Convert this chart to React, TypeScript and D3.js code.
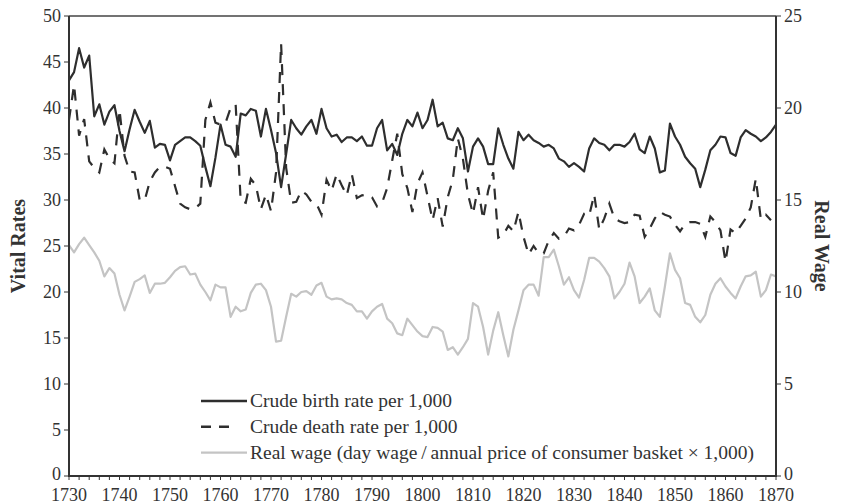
import React from "react";
import * as d3 from "d3";

// annual series, first year 1730
const startYear = 1730;

const birthRate = [
  43.0, 43.9, 46.5, 44.4, 45.7, 39.1, 40.4, 38.2, 39.6, 40.3,
  37.5, 35.3, 37.7, 39.8, 38.5, 37.3, 38.6, 35.7, 36.1, 36.0,
  34.3, 36.0, 36.4, 36.8, 36.8, 36.4, 35.9, 33.6, 31.5, 34.6,
  38.2, 36.0, 35.8, 34.7, 39.4, 39.2, 39.9, 39.7, 36.9, 39.9,
  37.6, 35.1, 31.4, 35.0, 38.7, 37.8, 37.1, 38.0, 38.7, 37.2,
  39.9, 37.8, 36.9, 37.1, 36.3, 36.8, 36.8, 36.4, 36.9, 35.9,
  35.9, 37.8, 38.7, 35.4, 36.1, 34.9, 37.2, 38.7, 38.0, 39.5,
  37.8, 38.7, 40.9, 38.0, 38.4, 36.7, 36.5, 37.8, 36.7, 33.1,
  35.8, 36.7, 35.8, 33.9, 33.9, 37.8, 36.0, 34.5, 33.4, 37.4,
  36.5, 37.1, 36.5, 36.2, 35.8, 36.0, 35.6, 34.5, 34.2, 33.6,
  34.0, 33.6, 33.1, 35.6, 36.7, 36.2, 36.0, 35.4, 36.0, 36.0,
  35.8, 36.3, 37.2, 35.5, 35.1, 36.9, 35.6, 33.0, 33.2, 38.3,
  36.9, 36.0, 34.7, 34.0, 33.4, 31.4, 33.3, 35.4, 36.0, 36.9,
  36.8, 35.1, 34.8, 36.8, 37.6, 37.2, 36.9, 36.4, 36.8, 37.4,
  38.2,
];

const deathRate = [
  38.7, 42.5, 37.0, 38.8, 34.2, 33.5, 33.0, 35.5, 34.5, 34.0,
  39.8, 34.8, 33.1, 33.0, 30.0, 30.0, 32.0, 33.0, 33.6, 33.6,
  33.4, 31.5, 29.6, 29.2, 29.0, 29.1, 29.6, 38.7, 40.6, 38.4,
  38.2, 38.4, 40.0, 40.4, 29.9, 29.7, 32.3, 31.6, 29.0, 30.6,
  28.8, 33.0, 47.0, 33.5, 29.7, 29.8, 31.0, 30.6, 29.8, 29.6,
  28.4, 32.2, 31.0, 32.8, 31.6, 30.5, 32.8, 30.2, 30.5, 30.6,
  30.3, 29.3, 29.7, 31.3, 34.3, 37.2, 32.8, 31.3, 28.7, 31.8,
  33.0, 30.4, 27.8, 30.2, 27.1, 30.3, 32.2, 36.7, 34.5, 30.6,
  28.5, 31.4, 27.9, 31.0, 33.0, 25.9, 26.2, 27.2, 26.6, 28.7,
  26.0, 24.1, 25.0, 24.2, 24.2, 25.6, 26.4, 25.8, 26.0, 26.9,
  26.7, 27.3, 28.5, 28.3, 30.6, 26.8, 28.0, 29.6, 28.0, 27.7,
  27.5, 27.6, 28.4, 28.3, 26.0, 26.9, 28.0, 28.7, 28.4, 28.2,
  27.3, 26.6, 27.4, 27.6, 27.6, 27.4, 26.0, 28.2, 27.6, 26.7,
  23.3, 26.8, 26.4, 27.2, 28.0, 29.2, 32.3, 27.9, 28.4, 27.8,
];

const realWage = [
  12.55, 12.15, 12.6, 12.95, 12.55, 12.15, 11.7, 10.85, 11.3, 11.0,
  9.85, 9.0, 9.75, 10.55, 10.7, 10.9, 9.95, 10.45, 10.45, 10.5,
  10.8, 11.15, 11.35, 11.4, 10.95, 11.0, 10.4, 10.0, 9.55, 10.4,
  10.25, 10.25, 8.65, 9.2, 8.95, 9.05, 9.95, 10.4, 10.45, 10.1,
  9.2, 7.3, 7.35, 8.65, 9.9, 9.75, 10.0, 10.05, 9.85, 10.35,
  10.5, 9.75, 9.6, 9.65, 9.6, 9.4, 9.3, 8.95, 8.95, 8.55,
  8.95, 9.2, 9.35, 8.55, 8.3, 7.75, 7.65, 8.55, 8.2, 7.85,
  7.6, 7.55, 8.1, 8.05, 7.85, 6.85, 7.0, 6.6, 7.0, 7.45,
  9.4, 9.2, 8.1, 6.6, 7.9, 8.9, 7.65, 6.5, 7.95, 9.0,
  10.1, 10.4, 10.4, 9.8, 11.9, 11.9, 12.3, 11.4, 10.4, 10.8,
  10.1, 9.7, 10.65, 11.85, 11.85, 11.65, 11.3, 10.85, 9.65, 10.0,
  10.45, 11.6, 10.85, 9.4, 9.75, 10.2, 9.0, 8.65, 10.3, 12.1,
  11.2, 10.75, 9.4, 9.3, 8.65, 8.35, 8.75, 9.85, 10.45, 10.75,
  10.3, 9.95, 9.65, 10.3, 10.85, 10.9, 11.1, 9.75, 10.1, 10.95,
  10.85,
];

const yearTicks = [1730, 1740, 1750, 1760, 1770, 1780, 1790, 1800, 1810, 1820, 1830, 1840, 1850, 1860, 1870];
const leftTicks = [0, 5, 10, 15, 20, 25, 30, 35, 40, 45, 50];
const rightTicks = [0, 5, 10, 15, 20, 25];

const legendItems = [
  { label: "Crude birth rate per 1,000", color: "#2e2e2e", dash: null },
  { label: "Crude death rate per 1,000", color: "#2e2e2e", dash: "10,8" },
  { label: "Real wage (day wage\u2009/\u2009annual price of consumer basket \u00d7 1,000)", color: "#c4c4c4", dash: null },
];

const W = 842;
const H = 504;
const font = "'Liberation Serif', 'Times New Roman', serif";
const ink = "#333";

export default function App() {
  const x = d3.scaleLinear().domain([1730, 1870]).range([69, 776]);
  const yL = d3.scaleLinear().domain([0, 50]).range([476, 16]);
  const yR = d3.scaleLinear().domain([0, 25]).range([476, 16]);

  const lineL = d3
    .line<number>()
    .x((d, i) => x(startYear + i))
    .y((d) => yL(d));
  const lineR = d3
    .line<number>()
    .x((d, i) => x(startYear + i))
    .y((d) => yR(d));

  const minorYears = d3.range(1730, 1871, 2);

  return (
    <svg
      width={W}
      height={H}
      style={{ position: "absolute", left: 0, top: 0, background: "#fff" }}
      fontFamily={font}
    >
      {/* series */}
      <path d={lineR(realWage) || ""} fill="none" stroke="#c4c4c4" strokeWidth={2.2} strokeLinejoin="round" />
      <path d={lineL(deathRate) || ""} fill="none" stroke="#2e2e2e" strokeWidth={2.2} strokeDasharray="11,9" />
      <path d={lineL(birthRate) || ""} fill="none" stroke="#2e2e2e" strokeWidth={2.2} strokeLinejoin="round" />

      {/* frame */}
      <line x1={x(1730)} x2={x(1870)} y1={yL(50)} y2={yL(50)} stroke="#444" strokeWidth={1.3} />
      <line x1={x(1730)} x2={x(1730)} y1={yL(50)} y2={yL(0)} stroke={ink} strokeWidth={2} />
      <line x1={x(1870)} x2={x(1870)} y1={yL(50)} y2={yL(0)} stroke={ink} strokeWidth={2} />
      <line x1={x(1730) - 1} x2={x(1870) + 1} y1={yL(0)} y2={yL(0)} stroke={ink} strokeWidth={2} />

      {/* left axis */}
      {leftTicks.map((t) => (
        <g key={"l" + t}>
          <line x1={x(1730) - 5} x2={x(1730)} y1={yL(t)} y2={yL(t)} stroke={ink} strokeWidth={1} />
          <text x={61} y={yL(t)} dy={t === 0 ? "0.22em" : "0.35em"} textAnchor="end" fontSize={18} fill={ink}>
            {t}
          </text>
        </g>
      ))}

      {/* right axis */}
      {rightTicks.map((t) => (
        <g key={"r" + t}>
          <line x1={x(1870)} x2={x(1870) + 5} y1={yR(t)} y2={yR(t)} stroke={ink} strokeWidth={1} />
          <text x={784} y={yR(t)} dy={t === 0 ? "0.22em" : "0.35em"} textAnchor="start" fontSize={18} fill={ink}>
            {t}
          </text>
        </g>
      ))}

      {/* bottom axis */}
      {minorYears.map((yr) => (
        <line key={"m" + yr} x1={x(yr)} x2={x(yr)} y1={yL(0)} y2={yL(0) + 4} stroke={ink} strokeWidth={1} />
      ))}
      {yearTicks.map((yr) => (
        <text key={"y" + yr} x={x(yr)} y={501} textAnchor="middle" fontSize={18} fill={ink}>
          {yr}
        </text>
      ))}

      {/* axis titles */}
      <text
        transform={`translate(25,${yL(25)}) rotate(-90)`}
        textAnchor="middle"
        fontSize={20}
        fontWeight="bold"
        fill={ink}
      >
        Vital Rates
      </text>
      <text
        transform={`translate(815,${yL(25)}) rotate(90)`}
        textAnchor="middle"
        fontSize={20}
        fontWeight="bold"
        fill={ink}
      >
        Real Wage
      </text>

      {/* legend */}
      {legendItems.map((item, i) => {
        const cy = 401 + i * 25.8;
        return (
          <g key={item.label}>
            <line
              x1={201}
              x2={item.dash ? 229 : 247}
              y1={cy}
              y2={cy}
              stroke={item.color}
              strokeWidth={2.4}
              strokeDasharray={item.dash || undefined}
            />
            <text x={250} y={cy} dy="0.33em" fontSize={19.5} fill={ink}>
              {item.label}
            </text>
          </g>
        );
      })}
    </svg>
  );
}
